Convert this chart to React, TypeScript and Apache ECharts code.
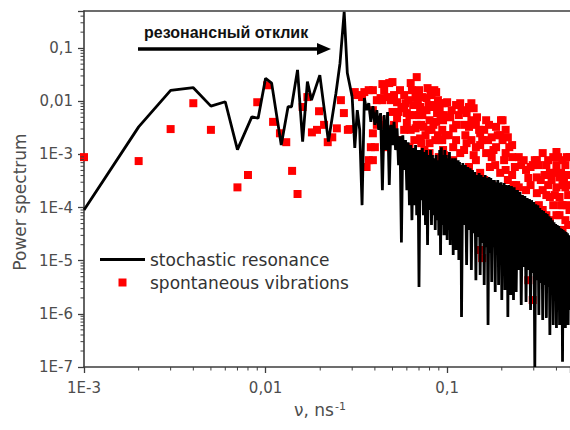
import React, { useEffect, useRef } from 'react';
import * as echarts from 'echarts';

const xTickLabels = ['1E-3', '0,01', '0,1'];
const yTickLabels = ['1E-7', '1E-6', '1E-5', '1E-4', '1E-3', '0,01', '0,1'];
const xMinorTicks = [
  0.002, 0.003, 0.004, 0.005, 0.006, 0.007, 0.008, 0.009,
  0.02, 0.03, 0.04, 0.05, 0.06, 0.07, 0.08, 0.09,
  0.2, 0.3, 0.4,
];
const yMinorTicks = [
  2e-7, 3e-7, 4e-7, 5e-7, 6e-7, 7e-7, 8e-7, 9e-7,
  2e-6, 3e-6, 4e-6, 5e-6, 6e-6, 7e-6, 8e-6, 9e-6,
  2e-5, 3e-5, 4e-5, 5e-5, 6e-5, 7e-5, 8e-5, 9e-5,
  2e-4, 3e-4, 4e-4, 5e-4, 6e-4, 7e-4, 8e-4, 9e-4,
  2e-3, 3e-3, 4e-3, 5e-3, 6e-3, 7e-3, 8e-3, 9e-3,
  0.02, 0.03, 0.04, 0.05, 0.06, 0.07, 0.08, 0.09,
  0.2, 0.3, 0.4,
];
const seriesNames = ['stochastic resonance', 'spontaneous vibrations'];
const annotationText = 'резонансный отклик';
const xTitle = 'ν, ns';
const xTitleSup = '-1';
const yTitle = 'Power spectrum';

// stochastic resonance spectrum: [frequency, power]
const resonance: [number, number][] = [
  [0.001, 9.0e-5], [0.002, 3.3e-3], [0.003, 1.6e-2], [0.004, 1.8e-2], [0.005, 8.1e-3],
  [0.006, 9.8e-3], [0.007, 1.23e-3], [0.0084, 5.1e-3], [0.0091, 4.8e-3], [0.01, 2.7e-2],
  [0.0108, 2.2e-2], [0.0122, 1.5e-3], [0.0133, 7.9e-3], [0.0139, 7.9e-3], [0.015, 3.9e-2],
  [0.016, 1.74e-3], [0.017, 2.34e-2], [0.0179, 1.05e-2], [0.0199, 3.1e-2], [0.0222, 1.74e-3],
  [0.0244, 1.4e-2], [0.0257, 5.2e-2], [0.0271, 0.48], [0.0282, 3.4e-2],
  [0.030, 1.2e-2], [0.031, 1.32e-3], [0.032, 6.8e-3], [0.033, 2.9e-3], [0.034, 1.11e-4],
  [0.035, 1.15e-2], [0.036, 6.8e-3], [0.037, 9.2e-3], [0.038, 4.1e-3], [0.039, 8.1e-3],
  [0.040, 3.6e-3], [0.041, 6.8e-3], [0.042, 2.9e-3], [0.043, 6.0e-3], [0.044, 2.13e-4],
  [0.045, 5.5e-3], [0.046, 1.21e-3], [0.047, 6.3e-3], [0.048, 2.65e-4], [0.049, 3.6e-3],
  [0.050, 1.5e-3], [0.051, 4.1e-3], [0.052, 1.21e-3], [0.053, 3.1e-3], [0.054, 6.3e-4],
  [0.055, 2.2e-3], [0.056, 2.2e-5], [0.057, 2.3e-3], [0.058, 5.1e-4], [0.059, 1.86e-3],
  [0.060, 2.13e-4], [0.061, 1.7e-3], [0.062, 1.11e-4], [0.063, 1.5e-3], [0.064, 5.8e-5],
  [0.065, 1.32e-3], [0.066, 1.11e-4], [0.067, 1.5e-3], [0.068, 7.2e-5], [0.069, 1.21e-3],
  [0.070, 3.2e-6], [0.071, 1.21e-3], [0.072, 1.38e-4], [0.073, 1.32e-3], [0.074, 7.2e-5],
  [0.075, 1.11e-3], [0.076, 4.7e-5], [0.077, 1.21e-3], [0.078, 1.97e-5], [0.079, 9.7e-4],
  [0.080, 9.0e-5], [0.081, 1.21e-3], [0.082, 4.7e-5], [0.083, 9.7e-4], [0.084, 7.2e-5],
  [0.085, 8.5e-4], [0.086, 3.8e-5], [0.087, 9.7e-4], [0.088, 5.8e-5], [0.089, 7.8e-4],
  [0.090, 3.0e-5], [0.091, 1.21e-3], [0.092, 1.28e-5], [0.093, 1.37e-3], [0.094, 4.7e-5],
  [0.095, 9.7e-4], [0.096, 3.0e-5], [0.097, 1.21e-3], [0.098, 3.0e-5], [0.099, 9.7e-4],
  [0.100, 2.45e-5], [0.101, 8.5e-4], [0.102, 3.8e-5], [0.103, 1.11e-3], [0.104, 1.97e-5],
  [0.105, 7.8e-4], [0.106, 3.0e-5], [0.107, 8.5e-4], [0.108, 1.28e-5], [0.109, 7.8e-4],
  [0.110, 2.45e-5], [0.111, 8.5e-4], [0.112, 1.59e-5], [0.113, 7.2e-4], [0.114, 2.45e-5],
  [0.115, 7.8e-4], [0.116, 1.03e-5], [0.117, 7.2e-4], [0.118, 1.97e-5], [0.119, 6.3e-4],
  [0.120, 8.7e-7], [0.122, 6.9e-4], [0.124, 4.7e-5], [0.126, 6.3e-4], [0.128, 8.3e-6],
  [0.130, 5.8e-4], [0.132, 3.8e-5], [0.134, 5.5e-4], [0.136, 6.7e-6], [0.138, 5.1e-4],
  [0.140, 3.3e-5], [0.142, 4.65e-4], [0.144, 4.3e-6], [0.146, 4.1e-4], [0.148, 2.8e-5],
  [0.150, 4.46e-4], [0.152, 5.4e-6], [0.154, 4.1e-4], [0.156, 2.15e-5], [0.158, 3.75e-4],
  [0.160, 3.5e-6], [0.162, 4.1e-4], [0.164, 1.8e-5], [0.166, 3.6e-4], [0.168, 6.2e-7],
  [0.170, 3.75e-4], [0.172, 1.4e-5], [0.174, 3.6e-4], [0.176, 3.97e-6], [0.178, 3.3e-4],
  [0.180, 1.8e-5], [0.182, 3.3e-4], [0.184, 2.58e-6], [0.186, 3.0e-4], [0.188, 1.4e-5],
  [0.190, 3.3e-4], [0.192, 3.5e-6], [0.194, 2.9e-4], [0.196, 1.28e-5], [0.198, 3.0e-4],
  [0.200, 1.82e-6], [0.202, 2.65e-4], [0.204, 1.17e-5], [0.206, 2.9e-4], [0.208, 2.8e-6],
  [0.210, 2.65e-4], [0.212, 1.03e-5], [0.214, 2.54e-4], [0.216, 8.7e-7], [0.218, 2.65e-4],
  [0.220, 9.0e-6], [0.222, 2.4e-4], [0.224, 2.26e-6], [0.226, 2.54e-4], [0.228, 8.3e-6],
  [0.230, 2.33e-4], [0.232, 1.82e-6], [0.234, 2.4e-4], [0.236, 9.0e-6], [0.238, 2.13e-4],
  [0.240, 2.58e-6], [0.244, 2.13e-4], [0.248, 6.7e-6], [0.252, 1.96e-4], [0.256, 1.47e-6],
  [0.260, 1.72e-4], [0.264, 7.6e-6], [0.268, 1.65e-4], [0.272, 1.67e-6], [0.276, 1.51e-4],
  [0.280, 6.7e-6], [0.284, 1.45e-4], [0.288, 1.18e-6], [0.292, 1.38e-4], [0.296, 5.9e-6],
  [0.300, 1.27e-4], [0.304, 1.0e-7], [0.308, 1.16e-4], [0.312, 4.3e-6], [0.316, 1.11e-4],
  [0.320, 9.5e-7], [0.324, 9.8e-5], [0.328, 3.8e-6], [0.332, 9.0e-5], [0.336, 7.7e-7],
  [0.340, 8.6e-5], [0.344, 3.5e-6], [0.348, 7.9e-5], [0.352, 8.4e-7], [0.356, 7.55e-5],
  [0.360, 3.2e-6], [0.364, 6.9e-5], [0.368, 4.0e-7], [0.372, 6.4e-5], [0.376, 2.8e-6],
  [0.380, 5.8e-5], [0.384, 6.2e-7], [0.388, 5.3e-5], [0.392, 2.47e-6], [0.396, 4.9e-5],
  [0.400, 5.4e-7], [0.404, 4.7e-5], [0.408, 2.26e-6], [0.412, 4.5e-5], [0.416, 6.2e-7],
  [0.420, 4.1e-5], [0.424, 2.47e-6], [0.428, 3.94e-5], [0.432, 1.25e-7], [0.436, 3.8e-5],
  [0.440, 2.07e-6], [0.444, 3.6e-5], [0.448, 5.4e-7], [0.452, 3.46e-5], [0.456, 2.47e-6],
  [0.460, 3.3e-5], [0.464, 6.2e-7], [0.468, 3.0e-5], [0.472, 2.8e-6], [0.476, 2.9e-5],
  [0.480, 1.18e-6],
];

// spontaneous vibrations spectrum: [frequency, power]
const spontaneous: [number, number][] = [
  [0.001, 8.9e-4], [0.002, 7.5e-4], [0.003, 3.0e-3], [0.004, 9.2e-3], [0.005, 2.9e-3],
  [0.007, 2.4e-4], [0.008, 4.1e-4], [0.009, 9.6e-3], [0.0102, 2.0e-2], [0.011, 4.1e-3],
  [0.012, 2.5e-3], [0.013, 1.7e-3], [0.014, 4.9e-4], [0.015, 1.8e-4], [0.016, 7.8e-3],
  [0.017, 1.2e-2], [0.018, 2.6e-3], [0.0192, 2.9e-3], [0.0197, 6.5e-3], [0.021, 3.6e-3],
  [0.022, 1.7e-3], [0.0233, 2.1e-3], [0.0247, 3.1e-3], [0.026, 1.05e-2], [0.027, 6.0e-3],
  [0.0284, 2.9e-3], [0.029, 3.0e-3],
  [0.031, 1.49e-2], [0.035, 1.49e-2], [0.037, 1.62e-2], [0.039, 1.62e-2], [0.044, 2.11e-2],
  [0.048, 2.2e-2], [0.050, 2.3e-2], [0.063, 2.2e-2], [0.068, 2.85e-2], [0.078, 1.77e-2],
  [0.085, 1.62e-2], [0.087, 1.49e-2], [0.097, 9.2e-3], [0.100, 9.6e-3], [0.112, 8.5e-3],
  [0.118, 9.2e-3], [0.132, 7.8e-3], [0.136, 9.2e-3], [0.146, 5.0e-3], [0.164, 4.4e-3],
  [0.186, 3.3e-3], [0.198, 4.4e-3], [0.202, 4.4e-3], [0.210, 2.9e-3],
  [0.039, 6.8e-3], [0.043, 1.15e-2], [0.044, 1.05e-2], [0.047, 1.2e-2], [0.050, 6.3e-3],
  [0.053, 9.6e-3], [0.053, 4.8e-3], [0.056, 7.4e-3], [0.058, 7.8e-3], [0.060, 6.0e-3],
  [0.060, 3.9e-3], [0.065, 8.5e-3], [0.069, 9.6e-3], [0.071, 7.8e-3], [0.074, 3.3e-3],
  [0.077, 1.15e-2], [0.077, 6.8e-3], [0.080, 4.4e-3], [0.083, 7.8e-3], [0.087, 4.1e-3],
  [0.088, 6.0e-3], [0.094, 9.2e-3], [0.104, 5.0e-3], [0.108, 3.1e-3], [0.128, 6.0e-3],
  [0.132, 3.3e-3], [0.152, 2.5e-3], [0.172, 5.8e-4], [0.176, 2.1e-3], [0.186, 1.37e-3],
  [0.202, 1.86e-3], [0.210, 1.06e-3], [0.216, 2.1e-3], [0.228, 8.9e-4], [0.236, 5.8e-4],
  [0.038, 1.37e-3], [0.039, 2.5e-3], [0.039, 7.8e-4], [0.036, 5.8e-4], [0.037, 7.8e-4],
  [0.040, 1.37e-3], [0.046, 1.37e-3], [0.057, 1.06e-3], [0.063, 2.9e-3], [0.063, 8.5e-4],
  [0.068, 3.6e-3], [0.071, 2.0e-3], [0.072, 1.63e-3], [0.075, 1.21e-3], [0.080, 1.63e-3],
  [0.080, 1.06e-3], [0.083, 2.65e-4], [0.090, 1.86e-3], [0.090, 8.9e-4], [0.094, 2.9e-3],
  [0.094, 1.86e-3], [0.094, 1.38e-4], [0.094, 6.4e-5], [0.100, 5.1e-4], [0.108, 1.37e-3],
  [0.108, 7.8e-4], [0.118, 1.06e-3], [0.122, 4.5e-4], [0.128, 1.63e-3], [0.132, 5.8e-4],
  [0.144, 1.37e-3], [0.152, 4.5e-4], [0.152, 1.59e-5], [0.156, 1.12e-5], [0.164, 1.06e-3],
  [0.196, 4.5e-4], [0.210, 5.1e-4], [0.210, 7.9e-5], [0.216, 3.3e-4], [0.248, 2.4e-4],
  [0.248, 8.9e-4], [0.272, 5.1e-4], [0.280, 4.3e-6], [0.288, 2.65e-4], [0.288, 5.8e-4],
  [0.296, 1.82e-6], [0.312, 3.7e-4], [0.312, 1.87e-4], [0.336, 1.06e-3], [0.336, 2.13e-4],
  [0.368, 4.5e-4], [0.368, 1.58e-4], [0.384, 8.9e-4], [0.400, 1.11e-3], [0.400, 2.4e-4],
  [0.416, 3.7e-4], [0.416, 1.58e-4], [0.432, 7.8e-4], [0.448, 2.4e-4], [0.472, 8.9e-4],
  [0.336, 9.0e-5], [0.368, 5.8e-5], [0.400, 7.2e-5], [0.432, 3.8e-5], [0.456, 2.45e-5],
  [0.472, 9.0e-5], [0.472, 2.15e-5], [0.352, 3.8e-5], [0.384, 1.11e-4], [0.416, 3.0e-5],
  [0.144, 3.6e-3], [0.144, 7.8e-4], [0.152, 1.5e-3], [0.160, 2.9e-3], [0.160, 3.3e-4],
  [0.168, 1.86e-3], [0.176, 8.9e-4], [0.176, 2.65e-4], [0.184, 6.3e-4], [0.196, 2.3e-3],
  [0.196, 2.13e-4], [0.208, 1.11e-4], [0.228, 1.5e-3], [0.228, 4.1e-4], [0.228, 1.38e-4],
  [0.240, 2.65e-4], [0.256, 6.3e-4], [0.256, 1.38e-4], [0.272, 2.13e-4], [0.288, 9.0e-5],
  [0.304, 7.8e-4], [0.304, 5.8e-5], [0.320, 6.3e-4], [0.320, 1.11e-4], [0.328, 3.3e-4],
  [0.352, 6.3e-4], [0.352, 1.72e-4], [0.352, 7.2e-5], [0.376, 3.3e-4], [0.376, 3.8e-5],
  [0.400, 6.3e-4], [0.416, 7.2e-5], [0.432, 2.65e-4], [0.432, 1.11e-4], [0.448, 6.3e-4],
  [0.448, 5.8e-5], [0.464, 4.1e-4], [0.464, 1.72e-4], [0.464, 4.7e-5], [0.472, 2.65e-4],
  [0.096, 5.5e-3], [0.096, 9.7e-4], [0.102, 2.3e-3], [0.106, 6.8e-3], [0.112, 1.86e-3],
  [0.112, 3.6e-3], [0.116, 5.5e-3], [0.116, 4.1e-4], [0.124, 3.6e-3], [0.124, 1.21e-3],
  [0.136, 1.86e-3], [0.136, 4.4e-3], [0.140, 7.4e-3], [0.140, 9.7e-4],
  [0.042, 4.4e-3], [0.045, 3.6e-3], [0.049, 2.9e-3], [0.049, 1.05e-2], [0.052, 1.86e-3],
  [0.055, 1.62e-2], [0.058, 2.9e-3], [0.058, 1.31e-2], [0.061, 1.05e-2], [0.066, 5.5e-3],
  [0.066, 1.86e-3], [0.070, 1.62e-2], [0.070, 5.5e-3], [0.072, 3.6e-3], [0.076, 2.3e-3],
  [0.082, 1.31e-2], [0.082, 2.9e-3], [0.086, 1.86e-3], [0.086, 8.5e-3], [0.092, 5.5e-3],
  [0.092, 6.3e-4], [0.098, 2.3e-3],
  [0.032, 1.31e-2], [0.034, 1.2e-2], [0.041, 1.05e-2], [0.041, 3.6e-3], [0.045, 1.62e-2],
  [0.051, 1.31e-2], [0.051, 3.6e-3], [0.054, 6.3e-3], [0.054, 1.86e-3], [0.059, 9.2e-3],
  [0.062, 5.5e-3], [0.062, 1.37e-3], [0.064, 1.62e-2], [0.067, 1.2e-2], [0.067, 3.1e-3],
  [0.073, 1.2e-2], [0.073, 5.5e-3], [0.079, 8.5e-3], [0.079, 2.9e-3], [0.081, 1.49e-2],
  [0.084, 3.6e-3], [0.089, 1.05e-2], [0.089, 2.3e-3], [0.091, 7.4e-3], [0.095, 4.4e-3],
  [0.095, 1.21e-3],
  [0.264, 7.8e-4], [0.280, 3.6e-4], [0.296, 6.3e-4], [0.312, 7.8e-4], [0.344, 4.1e-4],
  [0.360, 7.8e-4], [0.360, 2.65e-4], [0.392, 4.5e-4], [0.392, 1.72e-4], [0.408, 8.9e-4],
  [0.424, 4.5e-4], [0.424, 1.11e-4], [0.440, 3.3e-4], [0.456, 8.9e-4], [0.456, 1.11e-4],
  [0.480, 5.1e-4], [0.480, 1.38e-4], [0.480, 5.8e-5],
  [0.120, 6.8e-3], [0.126, 2.3e-3], [0.150, 2.9e-3], [0.156, 1.86e-3], [0.170, 3.6e-3],
  [0.180, 1.21e-3], [0.190, 2.3e-3], [0.206, 7.8e-4], [0.220, 1.37e-3], [0.232, 2.65e-4],
];

const X_MIN = 0.001;
const X_MAX = 0.475;
const Y_MIN = 1e-7;
const Y_MAX = 0.5;

const AXIS_COLOR = '#3d3d3d';
const LABEL_COLOR = '#4d4d4d';
const FONT = 'DejaVu Sans';

function decadeFormatter(labels: string[], firstExp: number) {
  return (v: number) => {
    const e = Math.log10(v);
    const r = Math.round(e);
    if (Math.abs(e - r) > 1e-6) return '';
    return labels[r - firstExp] ?? '';
  };
}

export default function App() {
  const ref = useRef<HTMLDivElement>(null);

  useEffect(() => {
    if (!ref.current) return;
    const chart = echarts.init(ref.current, undefined, { renderer: 'svg' });

    const axisLine = { show: true, onZero: false, lineStyle: { color: AXIS_COLOR, width: 1.6 } };
    const axisTick = { show: true, inside: false, length: 6, lineStyle: { color: AXIS_COLOR, width: 1.3 } };
    const MINOR_LEN = 3.5;

    const option: any = {
      animation: false,
      backgroundColor: '#ffffff',
      grid: { left: 84, right: 0, top: 11, bottom: 63, containLabel: false, outerBoundsMode: 'none' },
      xAxis: [
        {
          type: 'log',
          logBase: 10,
          min: X_MIN,
          max: X_MAX,
          interval: 1,
          axisLine,
          axisTick,
          splitLine: { show: false },
          axisLabel: {
            formatter: decadeFormatter(xTickLabels, -3),
            margin: 13,
            color: LABEL_COLOR,
            fontSize: 15,
            fontFamily: FONT,
          },
        },
        {
          type: 'log',
          logBase: 10,
          position: 'top',
          min: X_MIN,
          max: X_MAX,
          axisLine: { show: true, lineStyle: { color: AXIS_COLOR, width: 1.6 } },
          axisTick: { show: false },
          axisLabel: { show: false },
          splitLine: { show: false },
        },
      ],
      yAxis: {
        type: 'log',
        logBase: 10,
        min: Y_MIN,
        max: Y_MAX,
        interval: 1,
        axisLine,
        axisTick,
        splitLine: { show: false },
        axisLabel: {
          formatter: decadeFormatter(yTickLabels, -7),
          margin: 11,
          color: LABEL_COLOR,
          fontSize: 15,
          fontFamily: FONT,
        },
      },
      legend: {
        orient: 'vertical',
        left: 100,
        top: 251,
        padding: 0,
        itemWidth: 45,
        itemHeight: 8,
        itemGap: 6,
        symbolKeepAspect: true,
        itemStyle: { borderWidth: 0 },
        data: [
          { name: seriesNames[0], icon: 'path://M0,0H45V3H0Z', itemStyle: { color: '#000000' } },
          { name: seriesNames[1], icon: 'path://M0,0H8V8H0Z', itemStyle: { color: '#ff0000' } },
        ],
        textStyle: { fontFamily: FONT, fontSize: 17, color: '#333333' },
      },
      series: [
        {
          name: seriesNames[1],
          type: 'scatter',
          data: spontaneous,
          symbol: 'rect',
          symbolSize: 8,
          itemStyle: { color: '#ff0000', opacity: 1 },
          z: 2,
        },
        {
          name: seriesNames[0],
          type: 'line',
          data: resonance,
          symbol: 'none',
          showSymbol: false,
          lineStyle: { color: '#000000', width: 2.8 },
          itemStyle: { color: '#000000' },
          z: 3,
        },
        {
          name: 'x minor ticks',
          type: 'custom',
          coordinateSystem: 'cartesian2d',
          silent: true,
          clip: false,
          data: xMinorTicks.map((v) => [v, Y_MIN]),
          renderItem: (_params: any, api: any) => {
            const p = api.coord([api.value(0), Y_MIN]);
            return {
              type: 'line',
              shape: { x1: p[0], y1: p[1], x2: p[0], y2: p[1] + MINOR_LEN },
              style: { stroke: AXIS_COLOR, lineWidth: 1 },
            };
          },
          z: 5,
        },
        {
          name: 'y minor ticks',
          type: 'custom',
          coordinateSystem: 'cartesian2d',
          silent: true,
          clip: false,
          data: yMinorTicks.map((v) => [X_MIN, v]),
          renderItem: (_params: any, api: any) => {
            const p = api.coord([X_MIN, api.value(1)]);
            return {
              type: 'line',
              shape: { x1: p[0] - MINOR_LEN, y1: p[1], x2: p[0], y2: p[1] },
              style: { stroke: AXIS_COLOR, lineWidth: 1 },
            };
          },
          z: 5,
        },
      ],
      graphic: [
        {
          type: 'text',
          x: 144,
          y: 32,
          style: {
            text: annotationText,
            fontFamily: 'Liberation Sans',
            fontWeight: 'bold',
            fontSize: 16,
            fill: '#111111',
            align: 'left',
            verticalAlign: 'middle',
          },
        },
        {
          type: 'line',
          shape: { x1: 138, y1: 49, x2: 320, y2: 49 },
          style: { stroke: '#000000', lineWidth: 3.5 },
        },
        {
          type: 'polygon',
          shape: { points: [[317, 43], [331, 49], [317, 55]] },
          style: { fill: '#000000' },
        },
        {
          type: 'text',
          x: 20,
          y: 202,
          rotation: Math.PI / 2,
          style: {
            text: yTitle,
            fontFamily: FONT,
            fontSize: 17,
            fill: LABEL_COLOR,
            align: 'center',
            verticalAlign: 'middle',
          },
        },
        {
          type: 'text',
          x: 294,
          y: 410,
          style: {
            text: '{a|' + xTitle + '}{b|' + xTitleSup + '}',
            fill: LABEL_COLOR,
            align: 'left',
            verticalAlign: 'middle',
            rich: {
              a: { fontFamily: FONT, fontSize: 17, fill: LABEL_COLOR },
              b: { fontFamily: FONT, fontSize: 11, fill: LABEL_COLOR, verticalAlign: 'top', padding: [0, 0, 8, 1] },
            },
          },
        },
      ],
    };

    chart.setOption(option);
    return () => chart.dispose();
  }, []);

  return (
    <div
      ref={ref}
      style={{ position: 'absolute', left: 0, top: 0, width: 570, height: 430, background: '#fff' }}
    />
  );
}
